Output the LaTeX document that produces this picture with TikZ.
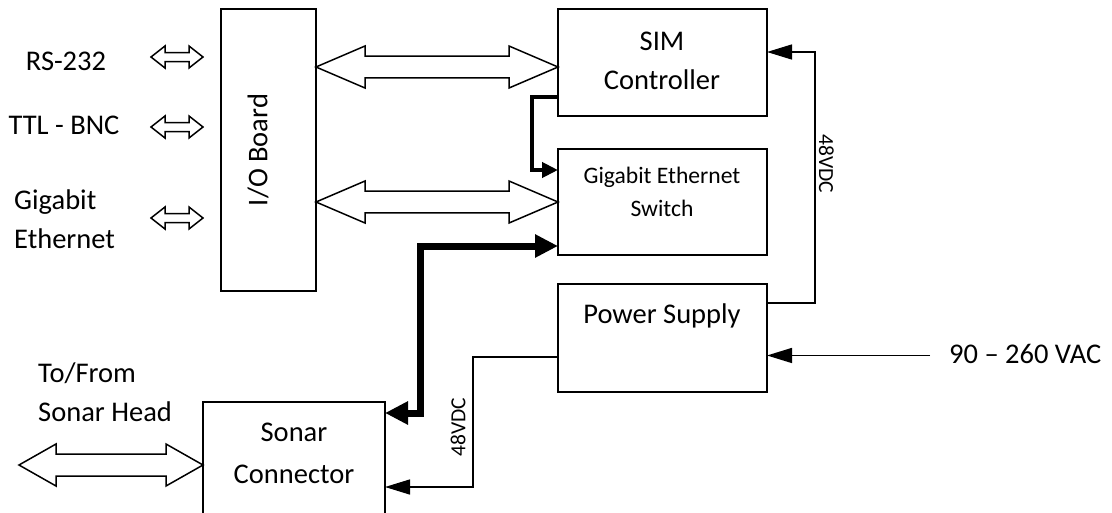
\documentclass[tikz,border=0pt]{standalone}
\usepackage{fontspec}
\setmainfont{Carlito}
\usetikzlibrary{arrows.meta,calc}
\newcommand\hollowdbl[5]{%
  \draw[hollow] let \p1=(#1), \p2=(#2) in
   (\x1,\y1) -- (\x1+#3pt,\y1+#4pt) -- (\x1+#3pt,\y1+#5pt) -- (\x2-#3pt,\y1+#5pt)
   -- (\x2-#3pt,\y1+#4pt) -- (\x2,\y1) -- (\x2-#3pt,\y1-#4pt) -- (\x2-#3pt,\y1-#5pt)
   -- (\x1+#3pt,\y1-#5pt) -- (\x1+#3pt,\y1-#4pt) -- cycle;}
\begin{document}
\begin{tikzpicture}[x=1pt,y=-1pt,
  box/.style={draw,line width=1.5pt,inner sep=0pt,outer sep=0pt},
  big/.style={font=\fontsize{28.5}{34}\selectfont,inner sep=0pt,anchor=base},
  mid/.style={font=\fontsize{23.6}{28}\selectfont,inner sep=0pt,anchor=base},
  small/.style={font=\fontsize{21.5}{24}\selectfont,inner sep=0pt},
  hollow/.style={draw,line width=1.5pt,fill=white,line join=miter},
  thinwire/.style={line width=1.5pt,-{Triangle[length=25pt,width=15pt]}},
  midwire/.style={line width=4pt,-{Triangle[length=16pt,width=15pt]}},
  fatwire/.style={line width=7pt,{Triangle[length=23pt,width=22pt]}-{Triangle[length=23pt,width=22pt]}}
]
\useasboundingbox (0,0) rectangle (1112,512);

% boxes
\node[box,minimum width=95pt,minimum height=282pt] (io) at (268.5,150) {};
\node[box,minimum width=209pt,minimum height=107pt] (sim) at (662.5,62.5) {};
\node[box,minimum width=209pt,minimum height=106pt] (sw) at (662.5,202) {};
\node[box,minimum width=209pt,minimum height=108pt] (ps) at (662.5,338) {};
\node[box,minimum width=182pt,minimum height=120pt] (son) at (294,462) {};

% box texts
\node[big,anchor=center,rotate=90] (iot) at (258,150) {I/O Board};
\node[big] (simt1) at (662,50) {SIM};
\node[big] (simt2) at (662,89) {Controller};
\node[mid] (swt1) at (662,183) {Gigabit Ethernet};
\node[mid] (swt2) at (662,216) {Switch};
\node[big] (pst) at (662,323) {Power Supply};
\node[big] (sont1) at (294,441) {Sonar};
\node[big] (sont2) at (294,483) {Connector};

% outside labels
\node[big] (rs) at (66,70) {RS-232};
\node[big] (ttl) at (64,134) {TTL - BNC};
\node[big,anchor=base west] (ge1) at (14,209) {Gigabit};
\node[big,anchor=base west] (ge2) at (14,248) {Ethernet};
\node[big,anchor=base west] (tf1) at (38,382) {To/From};
\node[big,anchor=base west] (tf2) at (38,421) {Sonar Head};
\node[big,anchor=base west] (vac) at (949,363) {90 – 260 VAC};

% small hollow arrows
\coordinate (a1l) at (151,57);  \coordinate (a1r) at (203,57);
\coordinate (a2l) at (151,127); \coordinate (a2r) at (203,127);
\coordinate (a3l) at (151,218); \coordinate (a3r) at (203,218);
\hollowdbl{a1l}{a1r}{14}{11}{4.5}
\hollowdbl{a2l}{a2r}{14}{11}{4.5}
\hollowdbl{a3l}{a3r}{14}{11}{4.5}

% big hollow arrows
\coordinate (simin) at ([yshift=-4.5pt]sim.west);
\coordinate (ioa) at (io.east |- simin);
\coordinate (iob) at (io.east |- sw.west);
\hollowdbl{ioa}{simin}{49}{21}{10.8}
\hollowdbl{iob}{sw.west}{49}{21}{10.8}
\coordinate (head) at (19,465);
\coordinate (sonin) at (son.west |- head);
\hollowdbl{head}{sonin}{37}{21}{11}

% SIM -> switch
\draw[midwire] ([yshift=19pt]sim.south west) -- ++(-26,0) |- ([yshift=-21pt]sw.north west);
% switch <-> sonar
\draw[fatwire] ([yshift=-11pt]son.north east) -- ++(35,0) |- ([yshift=9pt]sw.south west);
% 48VDC to SIM
\draw[thinwire] ([yshift=-19pt]ps.north east) -- ++(48,0) |- ([yshift=-43pt]sim.north east);
\node[small,rotate=-90] (v1) at (826.5,164) {48VDC};
% AC in
\coordinate (vacin) at ([yshift=-2pt]vac.west);
\draw[thinwire] ([xshift=-19pt]vacin) -- (ps.east |- vacin);
% 48VDC to sonar
\draw[thinwire] ([yshift=-19pt]ps.west) -- ++(-85,0) |- ([yshift=-85pt]son.north east);
\node[small,rotate=90] (v2) at (458,427) {48VDC};
\end{tikzpicture}
\end{document}
